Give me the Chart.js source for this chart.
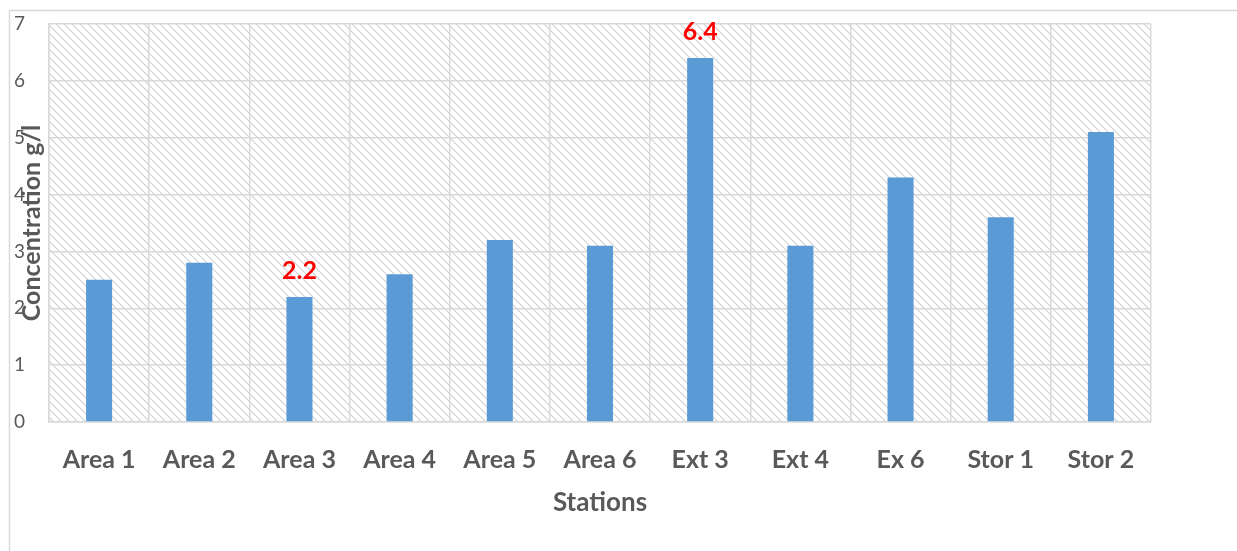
<!DOCTYPE html>
<html>
<head>
<meta charset="utf-8">
<script src="https://cdn.jsdelivr.net/npm/chart.js@4"></script>
<style>
  html, body { margin: 0; padding: 0; background: #fff; }
  #wrap { width: 1237px; height: 551px; position: relative; }
</style>
</head>
<body>
<div id="wrap"><canvas id="conc"></canvas></div>
<script>
const stations = ['Area 1', 'Area 2', 'Area 3', 'Area 4', 'Area 5', 'Area 6', 'Ext 3', 'Ext 4', 'Ex 6', 'Stor 1', 'Stor 2'];
const concentration = [2.5, 2.8, 2.2, 2.6, 3.2, 3.1, 6.4, 3.1, 4.3, 3.6, 5.1];
const labelledBars = [2, 6];
const yTicks = [0, 1, 2, 3, 4, 5, 6, 7];

const grey = '#595959';
const gridGrey = '#d9d9d9';

// diagonal hatch for the plot background
function makeHatch() {
    const c = document.createElement('canvas');
    c.width = 8; c.height = 8;
    const g = c.getContext('2d');
    g.strokeStyle = '#d2d2d2';
    g.lineWidth = 1.2;
    g.beginPath();
    for (const k of [-8, 0, 8]) {
        g.moveTo(k, 0);
        g.lineTo(k + 8, 8);
    }
    g.stroke();
    return g.createPattern(c, 'repeat');
}

const backdrop = {
    id: 'backdrop',
    beforeDraw(chart) {
        const ctx = chart.ctx;
        const a = chart.chartArea;
        ctx.save();
        ctx.fillStyle = '#fff';
        ctx.fillRect(0, 0, chart.width, chart.height);
        ctx.strokeStyle = gridGrey;
        ctx.lineWidth = 1.5;
        ctx.strokeRect(9.5, 10.5, chart.width + 50, chart.height + 50);
        ctx.fillStyle = makeHatch();
        ctx.fillRect(a.left, a.top, a.right - a.left, a.bottom - a.top);
        ctx.restore();
    }
};

const redLabels = {
    id: 'redLabels',
    afterDatasetsDraw(chart) {
        const ctx = chart.ctx;
        const bars = chart.getDatasetMeta(0).data;
        ctx.save();
        ctx.fillStyle = '#ff0000';
        ctx.font = 'bold 25px Lato';
        ctx.textAlign = 'center';
        ctx.textBaseline = 'alphabetic';
        labelledBars.forEach(i => {
            const b = bars[i];
            ctx.fillText(concentration[i].toFixed(1), b.x, b.y - 18);
        });
        ctx.restore();
    }
};

document.addEventListener('DOMContentLoaded', function () {
    const el = document.getElementById('conc');

    new Chart(el, {
        type: 'bar',
        data: {
            labels: stations,
            datasets: [{
                data: concentration,
                backgroundColor: '#5b9bd5',
                borderWidth: 0,
                categoryPercentage: 1,
                barPercentage: 0.26
            }]
        },
        options: {
            responsive: true,
            maintainAspectRatio: false,
            animation: false,
            layout: { padding: { left: 0, top: 24, right: 86, bottom: 0 } },
            plugins: {
                legend: { display: false },
                tooltip: { enabled: false }
            },
            scales: {
                x: {
                    afterFit: s => { s.height = 129; },
                    grid: { color: gridGrey, lineWidth: 1.5, drawTicks: false, offset: true },
                    border: { color: gridGrey, width: 1.5 },
                    ticks: {
                        color: grey,
                        padding: 23,
                        maxRotation: 0,
                        autoSkip: false,
                        font: { family: 'Lato', size: 25, weight: 'bold' }
                    },
                    title: {
                        display: true,
                        text: 'Stations',
                        color: grey,
                        padding: { top: 0, bottom: 33 },
                        font: { family: 'Lato', size: 26, weight: 'bold' }
                    }
                },
                y: {
                    min: 0,
                    max: 7,
                    afterFit: s => { s.width = 49; s.paddingTop = 0; s.paddingBottom = 0; },
                    afterBuildTicks: s => { s.ticks = yTicks.map(v => ({ value: v })); },
                    grid: { color: gridGrey, lineWidth: 1.5, drawTicks: false },
                    border: { color: gridGrey, width: 1.5 },
                    ticks: {
                        color: grey,
                        padding: 24,
                        font: { family: 'Lato', size: 19 }
                    },
                    title: {
                        display: true,
                        text: 'Concentration g/l',
                        color: grey,
                        padding: { top: 17, bottom: 0 },
                        font: { family: 'Lato', size: 25, weight: 'bold' }
                    }
                }
            }
        },
        plugins: [backdrop, redLabels]
    });
});
</script>
</body>
</html>
